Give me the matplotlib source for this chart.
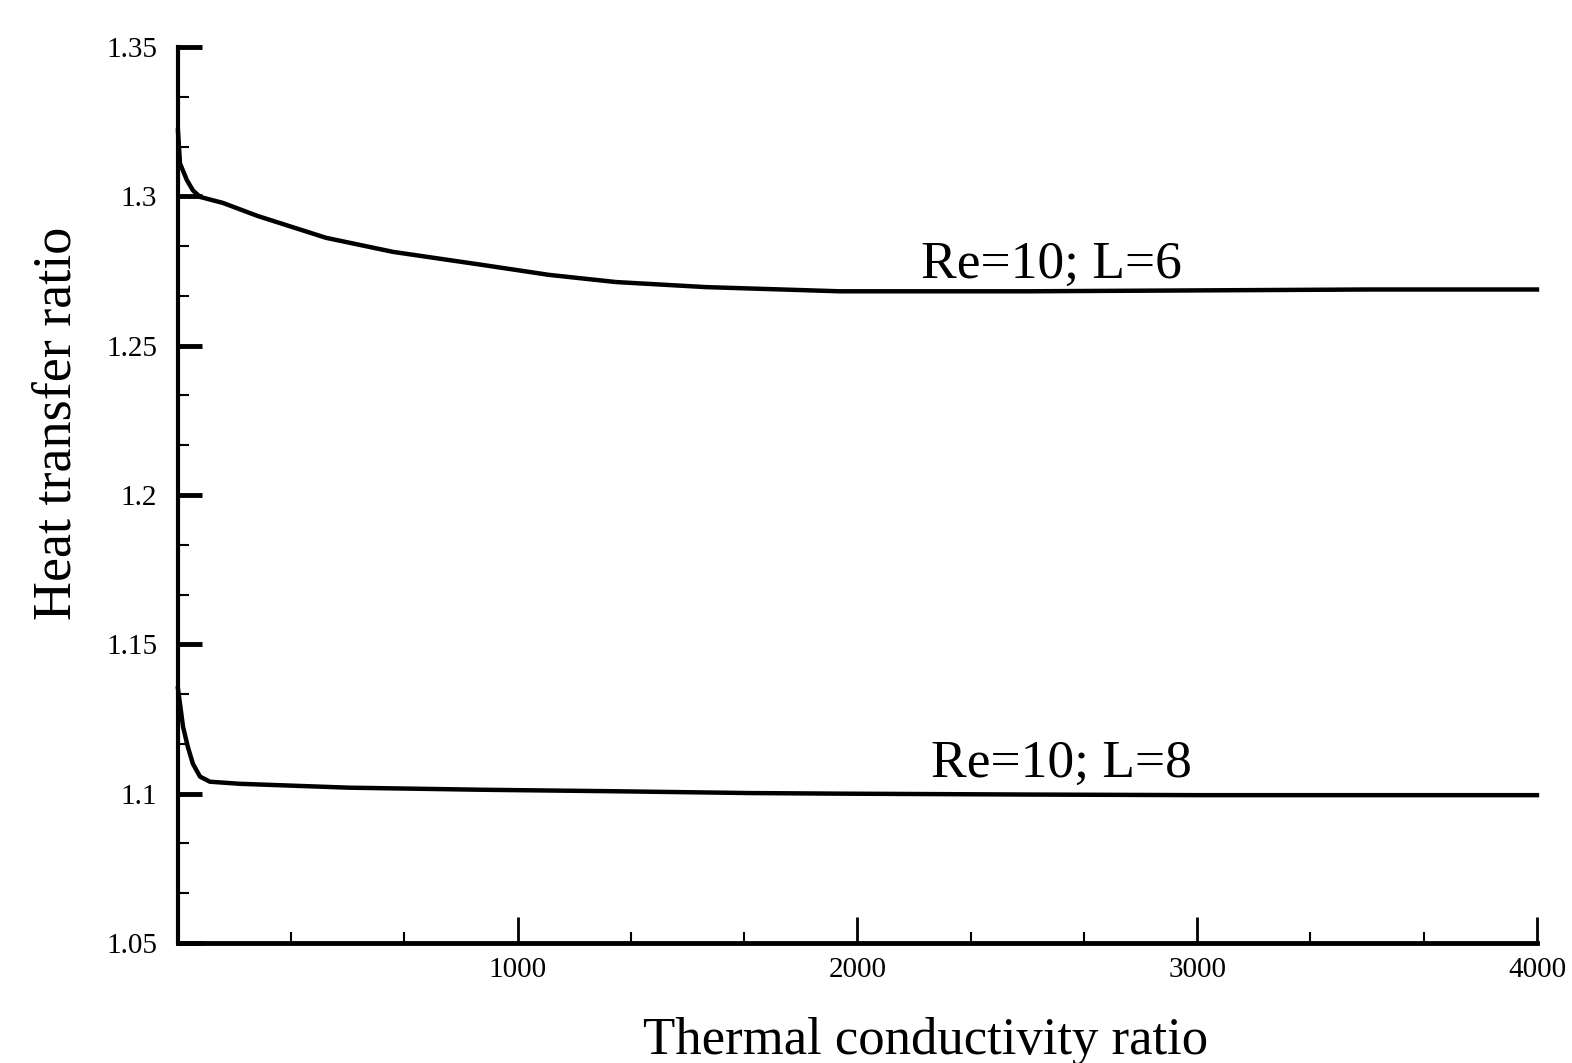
import matplotlib
matplotlib.use("Agg")
import matplotlib.pyplot as plt
from matplotlib.ticker import MultipleLocator, FixedLocator

plt.rcParams['font.family'] = ['Liberation Serif', 'DejaVu Serif']

# thermal conductivity ratio vs heat transfer ratio
x_l6 = [0, 6, 26, 44, 65, 132, 235, 436, 633, 898, 1092, 1289, 1554, 1948, 2500, 3000, 3500, 4000]
y_l6 = [1.322, 1.311, 1.3055, 1.302, 1.2998, 1.2978, 1.2934, 1.2861, 1.2814, 1.2770,
        1.2737, 1.2713, 1.2696, 1.2682, 1.2682, 1.2685, 1.2688, 1.2688]

x_l8 = [0, 15, 29, 44, 65, 94, 182, 330, 503, 898, 1289, 1683, 1948, 2500, 3000, 4000]
y_l8 = [1.1352, 1.1224, 1.1157, 1.1100, 1.1057, 1.1040, 1.1033, 1.1027, 1.1020, 1.1013,
        1.1008, 1.1002, 1.1000, 1.0997, 1.0995, 1.0995]

labels = ['Re=10; L=6', 'Re=10; L=8']
label_x = [2570, 2601]
label_y = [1.2727, 1.1057]

x_ticks = [1000, 2000, 3000, 4000]
y_ticks = [1.05, 1.1, 1.15, 1.2, 1.25, 1.3, 1.35]
y_ticklabels = ['1.05', '1.1', '1.15', '1.2', '1.25', '1.3', '1.35']

fig = plt.figure(figsize=(15.72, 10.63), dpi=100)
ax = fig.add_axes([0.1132, 0.1129, 0.8645, 0.8429])

ax.plot(x_l6, y_l6, color='black', lw=3.2, clip_on=False, solid_joinstyle='round')
ax.plot(x_l8, y_l8, color='black', lw=3.2, clip_on=False, solid_joinstyle='round')

for txt, tx, ty in zip(labels, label_x, label_y):
    ax.text(tx, ty, txt, fontsize=38.5, ha='center', va='baseline')

ax.set_xlim(0, 4000)
ax.set_ylim(1.05, 1.35)

ax.spines['top'].set_visible(False)
ax.spines['right'].set_visible(False)
ax.spines['left'].set_linewidth(3)
ax.spines['bottom'].set_linewidth(3.5)

ax.xaxis.set_major_locator(FixedLocator(x_ticks))
ax.xaxis.set_minor_locator(MultipleLocator(1000 / 3))
ax.yaxis.set_major_locator(FixedLocator(y_ticks))
ax.set_yticklabels(y_ticklabels)
ax.yaxis.set_minor_locator(MultipleLocator(0.05 / 3))

ax.tick_params(axis='y', which='major', direction='in', length=17, width=3.5, pad=15, labelsize=21)
ax.tick_params(axis='y', which='minor', direction='in', length=8, width=1.5)
ax.tick_params(axis='x', which='major', direction='in', length=19, width=2, pad=10, labelsize=21)
ax.tick_params(axis='x', which='minor', direction='in', length=8, width=1.5)

ax.set_xlabel('Thermal conductivity ratio', fontsize=38)
ax.xaxis.set_label_coords(0.55, -0.083)
ax.set_ylabel('Heat transfer ratio', fontsize=39)
ax.yaxis.set_label_coords(-0.0706, 0.58)

fig.savefig('out.png', dpi=100)
